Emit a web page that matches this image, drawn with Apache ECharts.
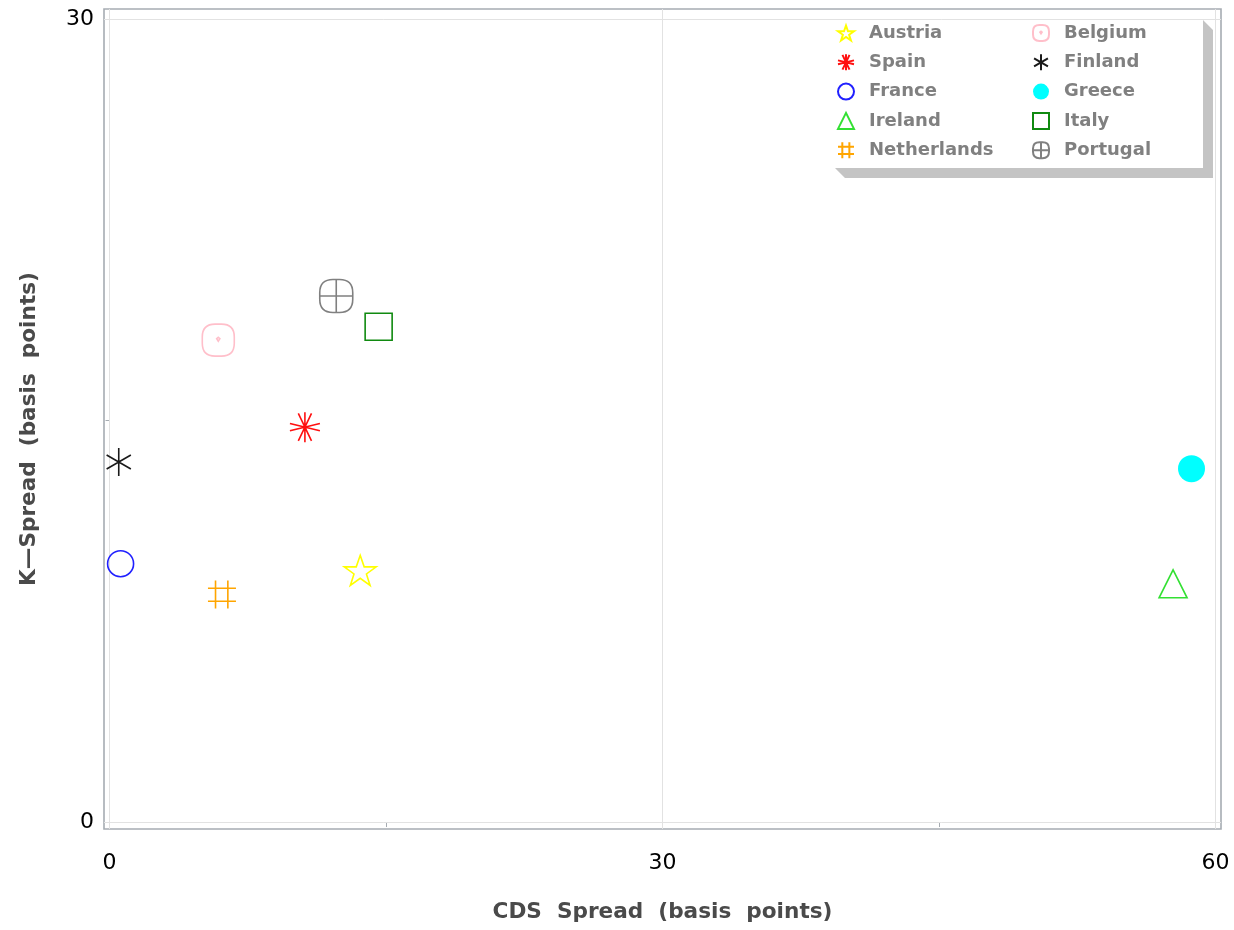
<!DOCTYPE html>
<html>
<head>
<meta charset="utf-8">
<title>CDS Spread vs K-Spread</title>
<script src="https://cdn.jsdelivr.net/npm/echarts@6/dist/echarts.min.js"></script>
<style>
  html, body { margin: 0; padding: 0; background: #ffffff; }
  #chart { width: 1234px; height: 930px; }
</style>
</head>
<body>
<div id="chart"></div>
<script>
// Country order as listed in the legend (row by row, two columns)
const countries = ['Austria', 'Belgium', 'Spain', 'Finland', 'France',
                   'Greece', 'Ireland', 'Italy', 'Netherlands', 'Portugal'];
// CDS spread (basis points) per country
const cdsSpread = [13.6, 5.9, 10.6, 0.5, 0.6, 58.7, 57.7, 14.6, 6.1, 12.3];
// K-spread (basis points) per country
const kSpread = [9.4, 18.0, 14.75, 13.45, 9.65, 13.2, 8.9, 18.5, 8.5, 19.65];

// Axis tick labels, unlabeled tick marks and reference grid lines
const xTickLabels = [0, 30, 60];
const yTickLabels = [0, 30];
const xMinorTicks = [15, 45];
const yMinorTicks = [15];
const xGridValues = [0, 30, 60];
const yGridValues = [0, 30];

// Marker styling per country
const squircle = 'M40,0 H60 Q100,0 100,40 V60 Q100,100 60,100 H40 Q0,100 0,60 V40 Q0,0 40,0 Z';
const markers = {
  Austria:     { color: '#ffff00', size: 32, symbol: 'path://M50,2 L61.8,36.2 L97.6,36.2 L68.5,57.4 L79.4,91.6 L50,70.5 L20.6,91.6 L31.5,57.4 L2.4,36.2 L38.2,36.2 Z', fill: false },
  Belgium:     { color: '#ffbfca', size: 32, symbol: 'path://' + squircle + ' M50,41 L55,45 L50,53 L45,45 Z', fill: false },
  Spain:       { color: '#ff1010', size: 30, symbol: 'path://M50,0 L50,100 M0,38 L100,62 M0,62 L100,38 M28,4 L72,96 M72,4 L28,96', fill: false },
  Finland:     { color: '#1a1a1a', size: 28, symbol: 'path://M50,0 L50,100 M6.7,25 L93.3,75 M6.7,75 L93.3,25', fill: false },
  France:      { color: '#2020ff', size: 26, symbol: 'circle', fill: false },
  Greece:      { color: '#00ffff', size: 27, symbol: 'circle', fill: true },
  Ireland:     { color: '#33e033', size: 28, symbol: 'triangle', fill: false },
  Italy:       { color: '#108a10', size: 27, symbol: 'rect', fill: false },
  Netherlands: { color: '#ffa500', size: 28, symbol: 'path://M27,0 L27,100 M71,0 L71,100 M0,28 L100,28 M0,74 L100,74', fill: false },
  Portugal:    { color: '#808080', size: 33, symbol: 'path://' + squircle + ' M50,0 V100 M0,50 H100', fill: false }
};

const fontFamily = '"DejaVu Sans", "Liberation Sans", sans-serif';

const series = countries.map((name, i) => {
  const m = markers[name];
  return {
    name: name,
    type: 'scatter',
    data: [[cdsSpread[i], kSpread[i]]],
    symbol: m.symbol,
    symbolSize: m.size,
    symbolKeepAspect: true,
    itemStyle: m.fill
      ? { color: m.color, opacity: 1 }
      : { color: 'rgba(0,0,0,0)', borderColor: m.color, borderWidth: 1.6, opacity: 1 },
    emphasis: { disabled: true },
    z: 5
  };
});

// Light reference lines at the labelled values
series.push({
  name: 'grid',
  type: 'scatter',
  data: [],
  silent: true,
  z: 1,
  markLine: {
    silent: true,
    symbol: 'none',
    animation: false,
    label: { show: false },
    lineStyle: { color: '#e2e2e2', width: 1, type: 'solid' },
    data: xGridValues.map(v => ({ xAxis: v })).concat(yGridValues.map(v => ({ yAxis: v })))
  }
});

const legendText = {
  fontFamily: fontFamily,
  fontWeight: 'bold',
  fontSize: 18,
  color: '#808080',
  padding: [6, 0, 0, 10]
};

const legendBase = {
  orient: 'vertical',
  itemWidth: 16,
  itemHeight: 16,
  itemGap: 11.3,
  padding: 0,
  selectedMode: false,
  textStyle: legendText
};

const tickLabelStyle = {
  fontFamily: fontFamily,
  fontSize: 22,
  color: '#000000'
};

const chart = echarts.init(document.getElementById('chart'), null, { renderer: 'canvas' });

chart.setOption({
  animation: false,
  backgroundColor: '#ffffff',
  grid: {
    left: 104, right: 13, top: 9, bottom: 101,
    show: true,
    borderColor: '#a6acb2',
    borderWidth: 1.6,
    backgroundColor: 'rgba(0,0,0,0)'
  },
  xAxis: {
    type: 'value',
    min: -0.3,
    max: 60.3,
    name: 'CDS  Spread  (basis  points)',
    nameLocation: 'middle',
    nameGap: 72,
    nameTextStyle: { fontFamily: fontFamily, fontWeight: 'bold', fontSize: 21.6, color: '#4a4a4a' },
    axisLine: { show: false },
    splitLine: { show: false },
    axisTick: { show: true, inside: false, length: 5, customValues: xMinorTicks, lineStyle: { color: '#a6acb2', width: 1 } },
    axisLabel: Object.assign({ show: true, customValues: xTickLabels, margin: 23 }, tickLabelStyle)
  },
  yAxis: {
    type: 'value',
    min: -0.26,
    max: 30.37,
    name: 'K\u2014Spread  (basis  points)',
    nameLocation: 'middle',
    nameGap: 64,
    nameRotate: 90,
    nameTextStyle: { fontFamily: fontFamily, fontWeight: 'bold', fontSize: 21.6, color: '#4a4a4a', padding: [0, 20, 0, 0] },
    axisLine: { show: false },
    splitLine: { show: false },
    axisTick: { show: true, inside: false, length: 4, customValues: yMinorTicks, lineStyle: { color: '#a6acb2', width: 1 } },
    axisLabel: Object.assign({ show: true, customValues: yTickLabels, margin: 10, padding: [10, 0, 0, 0] }, tickLabelStyle)
  },
  legend: [
    Object.assign({ left: 837, top: 24, data: ['Austria', 'Spain', 'France', 'Ireland', 'Netherlands'] }, legendBase),
    Object.assign({ left: 1032, top: 24, data: ['Belgium', 'Finland', 'Greece', 'Italy', 'Portugal'] }, legendBase)
  ],
  graphic: [
    {
      // extruded shadow behind the legend panel
      type: 'polygon',
      z: 2,
      silent: true,
      shape: { points: [[1203, 20], [1213, 30], [1213, 178], [845, 178], [835, 168], [1203, 168]] },
      style: { fill: '#c4c4c4' }
    },
    {
      type: 'rect',
      z: 3,
      silent: true,
      shape: { x: 835, y: 20, width: 368, height: 148 },
      style: { fill: '#ffffff' }
    }
  ],
  series: series
});
</script>
</body>
</html>
